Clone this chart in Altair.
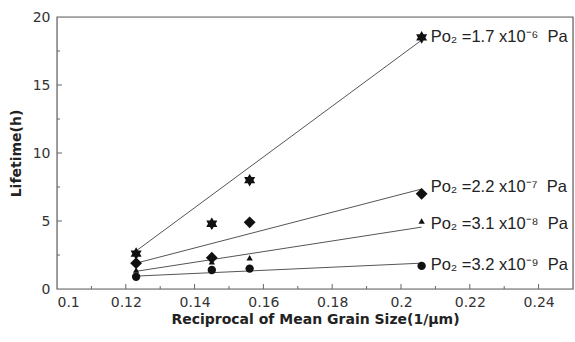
import altair as alt
import pandas as pd

# Measured lifetimes vs reciprocal grain size, one series per oxygen partial pressure
series = ["1.7e-6", "2.2e-7", "3.1e-8", "3.2e-9"]
labels = ["Po\u2082 =1.7 x10\u207b\u2076\u00a0 Pa", "Po\u2082 =2.2 x10\u207b\u2077\u00a0 Pa",
          "Po\u2082 =3.1 x10\u207b\u2078\u00a0 Pa", "Po\u2082 =3.2 x10\u207b\u2079\u00a0 Pa"]
shapes = ["M0,-1L0.3,-0.5L0.87,-0.5L0.6,0L0.87,0.5L0.3,0.5L0,1L-0.3,0.5L-0.87,0.5L-0.6,0L-0.87,-0.5L-0.3,-0.5Z",
          "diamond", "triangle-up", "circle"]
sizes = [160, 140, 40, 70]

grain_x = [0.123, 0.145, 0.156, 0.206]
life_y = {
    "1.7e-6": [2.6, 4.8, 8.0, 18.5],
    "2.2e-7": [1.9, 2.3, 4.9, 7.0],
    "3.1e-8": [1.4, 2.0, 2.3, 5.0],
    "3.2e-9": [0.9, 1.4, 1.5, 1.7],
}
# Fitted trend line end points for each series
fit_x = [0.123, 0.206]
fit_y = {
    "1.7e-6": [2.8, 18.3],
    "2.2e-7": [1.9, 7.35],
    "3.1e-8": [1.3, 4.55],
    "3.2e-9": [0.95, 1.9],
}
label_y = [18.5, 7.5, 4.8, 1.75]

x_major = [0.1, 0.12, 0.14, 0.16, 0.18, 0.2, 0.22, 0.24]
x_minor = [0.11, 0.13, 0.15, 0.17, 0.19, 0.21, 0.23]
y_major = [0, 5, 10, 15, 20]
y_minor = [2.5, 7.5, 12.5, 17.5]

pts = pd.DataFrame([
    {"series": s, "x": x, "y": y, "shape": shapes[i], "size": sizes[i]}
    for i, s in enumerate(series) for x, y in zip(grain_x, life_y[s])
])
fits = pd.DataFrame([
    {"series": s, "x": x, "y": y}
    for s in series for x, y in zip(fit_x, fit_y[s])
])
lab = pd.DataFrame({"series": series, "text": labels,
                    "x": [grain_x[-1]] * 4, "y": label_y})

W, H = 516, 272
FONT = "Liberation Sans"
TFONT = "DejaVu Sans"
xs = alt.Scale(domain=[0.1, 0.25], nice=False)
ys = alt.Scale(domain=[0, 20], nice=False)

xaxis = alt.Axis(values=x_major, format="~g", title="Reciprocal of Mean Grain Size(1/\u03bcm)",
                 ticks=False, domain=False, grid=False, labelFontSize=14, labelColor="#333",
                 labelFont=TFONT, labelPadding=6, titleFont=TFONT, titleFontSize=14,
                 titleFontWeight="bold", titleColor="#222", titlePadding=3)
yaxis = alt.Axis(values=y_major, title="Lifetime(h)", ticks=False, domain=False, grid=False,
                 labelFontSize=14, labelColor="#333", labelFont=TFONT, labelPadding=7,
                 titleFont=TFONT, titleFontSize=14, titleFontWeight="bold", titleColor="#222",
                 titlePadding=9)

base_axes = alt.Chart(pd.DataFrame({"x": [0.1], "y": [0]})).mark_point(opacity=0).encode(
    x=alt.X("x:Q", scale=xs, axis=xaxis), y=alt.Y("y:Q", scale=ys, axis=yaxis))

frame = alt.Chart(pd.DataFrame({"a": [0]})).mark_rect(
    fill=None, stroke="#666", strokeWidth=1.2).encode(
    x=alt.value(0), x2=alt.value(W), y=alt.value(0), y2=alt.value(H))

tick_col = "#666"
xt_major = alt.Chart(pd.DataFrame({"x": x_major[1:]})).mark_rule(color=tick_col).encode(
    x=alt.X("x:Q", scale=xs), y=alt.value(H), y2=alt.value(H - 5))
xt_minor = alt.Chart(pd.DataFrame({"x": x_minor})).mark_rule(color=tick_col).encode(
    x=alt.X("x:Q", scale=xs), y=alt.value(H), y2=alt.value(H - 3))
yt_major = alt.Chart(pd.DataFrame({"y": y_major[1:-1]})).mark_rule(color=tick_col).encode(
    y=alt.Y("y:Q", scale=ys), x=alt.value(0), x2=alt.value(5))
yt_minor = alt.Chart(pd.DataFrame({"y": y_minor})).mark_rule(color=tick_col).encode(
    y=alt.Y("y:Q", scale=ys), x=alt.value(0), x2=alt.value(3))

lines = alt.Chart(fits).mark_line(color="#555", strokeWidth=1).encode(
    x=alt.X("x:Q", scale=xs), y=alt.Y("y:Q", scale=ys), detail="series:N")

points = alt.Chart(pts).mark_point(filled=True, color="#111", opacity=1).encode(
    x=alt.X("x:Q", scale=xs), y=alt.Y("y:Q", scale=ys),
    shape=alt.Shape("shape:N", scale=None), size=alt.Size("size:Q", scale=None))

texts = alt.Chart(lab).mark_text(align="left", baseline="middle", dx=9, fontSize=16.5,
                                 font=FONT, color="#222").encode(
    x=alt.X("x:Q", scale=xs), y=alt.Y("y:Q", scale=ys), text="text:N")

chart = alt.layer(base_axes, lines, points, texts, xt_major, xt_minor, yt_major, yt_minor, frame
                  ).properties(
    width=W, height=H, autosize=alt.AutoSizeParams(type="none"),
    padding={"left": 57, "top": 17, "right": 2, "bottom": 53}
).configure_view(stroke=None).configure(background="white")

chart.save("out.html", embed_options={"renderer": "svg", "actions": False})
